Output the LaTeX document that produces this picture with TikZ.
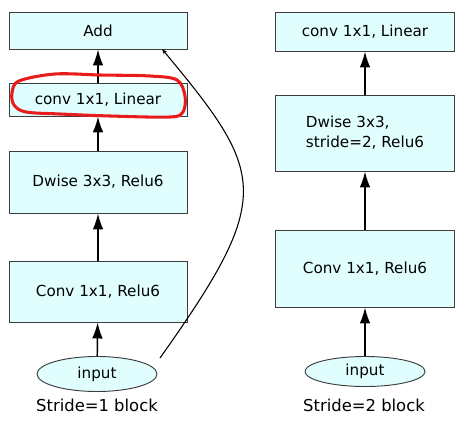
\documentclass[tikz,border=0pt]{standalone}
\usepackage{fontspec}
\setmainfont{DejaVu Sans}
\definecolor{BlockFill}{RGB}{224,254,254}
\definecolor{BlockLine}{RGB}{60,60,60}
\definecolor{MarkColor}{RGB}{232,28,28}
\usetikzlibrary{positioning, arrows.meta, shapes.geometric, calc}
\tikzstyle{arrow} = [line width=1.1pt, black, -{Latex[length=12pt, width=8pt]}]
\tikzstyle{skiparrow} = [line width=0.8pt, black, -{Stealth[length=4pt, width=3pt]}]
\tikzset{
  block/.style={rectangle, draw=BlockLine, fill=BlockFill, line width=0.7pt, inner sep=0pt, font=\fontsize{11.4}{15}\selectfont},
  inputnode/.style={ellipse, draw=BlockLine, fill=BlockFill, line width=0.7pt, inner sep=0pt, minimum width=90pt, font=\fontsize{11.4}{14}\selectfont},
  caption/.style={font=\fontsize{12.3}{14}\selectfont},
  highlight/.style={draw=MarkColor, line width=2.3pt, line join=round}
}

\begin{document}
\begin{tikzpicture}[x=0.75pt, y=-0.75pt]
  \useasboundingbox (0,0) rectangle (466,431);

  % Stride=1 block
  \node[block, minimum width=133.5pt, minimum height=27.75pt] (add) at (98,30.5) {Add};
  \node[block, minimum width=133.5pt, minimum height=24.75pt] (linL) at (98,99.5) {conv 1x1, Linear};
  \node[block, minimum width=133.5pt, minimum height=46.5pt] (dwL) at (98,182) {Dwise 3x3, Relu6};
  \node[block, minimum width=133.5pt, minimum height=45.75pt] (convL) at (98,291.5) {Conv 1x1, Relu6};
  \node[inputnode, minimum height=26.25pt] (inL) at (97,374) {input};
  \node[caption] (lblL) at (97,405) {Stride=1 block};

  \draw[arrow] (inL) -- (convL);
  \draw[arrow] (convL) -- (dwL);
  \draw[arrow] (dwL) -- (linL);
  \draw[arrow] (linL) -- (add);

  % Shortcut
  \coordinate (skipstart) at (160,358);
  \coordinate (skipend) at (162,49);
  \draw[skiparrow] (skipstart) .. controls (275,196) and (266,174) .. (skipend);

  % Red mark round the linear layer
  \draw[highlight] plot[smooth cycle, tension=0.55] coordinates {
    (12,93) (19,81) (55,74) (100,75) (150,76) (177,80) (185,96)
    (183,112) (170,117) (110,116) (60,114) (26,112) (14,105)};

  % Stride=2 block
  \node[block, minimum width=134.25pt, minimum height=29.25pt] (linR) at (365,31.5) {conv 1x1, Linear};
  \node[block, minimum width=134.25pt, minimum height=57pt, align=left] (dwR) at (365,133) {Dwise 3x3,\\stride=2, Relu6};
  \node[block, minimum width=134.25pt, minimum height=57.75pt] (convR) at (365,268.5) {Conv 1x1, Relu6};
  \node[inputnode, minimum height=22.5pt] (inR) at (365,371.5) {input};
  \node[caption] (lblR) at (364,405) {Stride=2 block};

  \draw[arrow] (inR) -- (convR);
  \draw[arrow] (convR) -- (dwR);
  \draw[arrow] (dwR) -- (linR);
\end{tikzpicture}
\end{document}
